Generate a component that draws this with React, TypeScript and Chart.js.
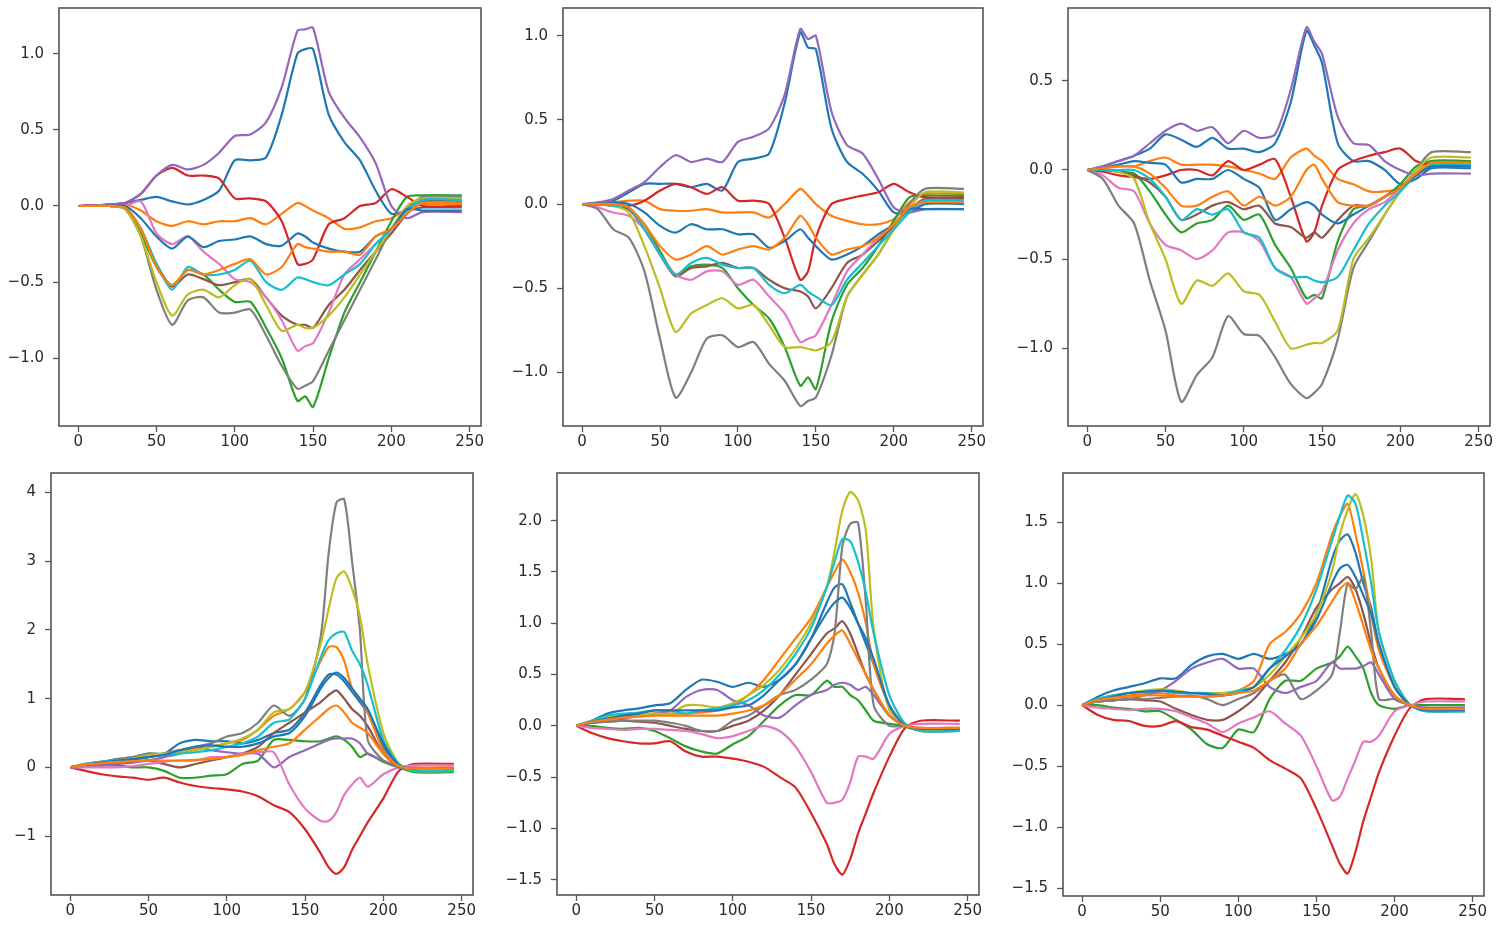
import React, { useEffect, useRef } from "react";
import { Chart, registerables } from "chart.js";

Chart.register(...registerables);

// ---------- x positions ----------
const xTop = [0, 10, 20, 30, 40, 50, 60, 70, 80, 90, 100, 110, 120, 130, 140, 145, 150, 160, 170, 180, 190, 200, 210, 220, 245];
const xBottom = [0, 10, 20, 30, 40, 50, 60, 70, 80, 90, 100, 110, 120, 130, 140, 150, 160, 165, 170, 175, 180, 185, 190, 200, 210, 220, 245];

// ---------- tick labels ----------
const xTickValues = [0, 50, 100, 150, 200, 250];
const yTicksA = [-1, -0.5, 0, 0.5, 1];
const yTicksB = [-1, -0.5, 0, 0.5, 1];
const yTicksC = [-1, -0.5, 0, 0.5];
const yTicksD = [-1, 0, 1, 2, 3, 4];
const yTicksE = [-1.5, -1, -0.5, 0, 0.5, 1, 1.5, 2];
const yTicksF = [-1.5, -1, -0.5, 0, 0.5, 1, 1.5];

// ---------- panel A (top left) ----------
const aBlue1 = [0, 0.005, 0.01, 0.02, 0.04, 0.06, 0.03, 0.01, 0.04, 0.1, 0.3, 0.3, 0.32, 0.6, 1.0, 1.03, 1.03, 0.6, 0.42, 0.3, 0.1, -0.05, -0.03, -0.01, -0.01];
const aOrange1 = [0, 0.005, 0.01, 0.01, -0.03, -0.1, -0.13, -0.1, -0.12, -0.1, -0.1, -0.08, -0.12, -0.05, 0.02, 0.0, -0.03, -0.08, -0.15, -0.14, -0.1, -0.08, -0.02, 0.01, 0.01];
const aGreen = [0, 0.0, 0.0, -0.02, -0.18, -0.4, -0.52, -0.42, -0.45, -0.55, -0.63, -0.63, -0.8, -1.0, -1.28, -1.25, -1.32, -1.0, -0.7, -0.5, -0.3, -0.1, 0.06, 0.07, 0.07];
const aRed = [0, 0.005, 0.01, 0.02, 0.08, 0.2, 0.25, 0.2, 0.2, 0.18, 0.05, 0.05, 0.03, -0.1, -0.38, -0.38, -0.35, -0.12, -0.08, 0.0, 0.02, 0.11, 0.06, 0.0, 0.0];
const aPurple = [0, 0.005, 0.01, 0.02, 0.08, 0.2, 0.27, 0.24, 0.27, 0.35, 0.46, 0.47, 0.55, 0.78, 1.15, 1.16, 1.17, 0.75, 0.58, 0.45, 0.28, 0.0, -0.08, -0.04, -0.04];
const aBrown = [0, 0.0, 0.0, -0.01, -0.15, -0.38, -0.53, -0.45, -0.48, -0.52, -0.5, -0.48, -0.6, -0.72, -0.78, -0.78, -0.8, -0.65, -0.55, -0.42, -0.3, -0.18, -0.05, 0.03, 0.03];
const aPink = [0, 0.0, 0.0, 0.0, 0.03, -0.18, -0.25, -0.2, -0.3, -0.38, -0.48, -0.5, -0.6, -0.75, -0.95, -0.92, -0.9, -0.7, -0.45, -0.35, -0.25, -0.15, -0.03, 0.02, 0.02];
const aGray = [0, 0.0, 0.0, -0.02, -0.2, -0.55, -0.78, -0.62, -0.6, -0.7, -0.7, -0.68, -0.85, -1.05, -1.2, -1.18, -1.15, -0.95, -0.75, -0.55, -0.35, -0.15, -0.02, 0.06, 0.06];
const aOlive = [0, 0.0, 0.0, -0.02, -0.2, -0.5, -0.72, -0.58, -0.55, -0.6, -0.52, -0.48, -0.65, -0.82, -0.78, -0.8, -0.8, -0.72, -0.6, -0.45, -0.3, -0.15, 0.0, 0.05, 0.05];
const aCyan = [0, 0.0, 0.0, -0.01, -0.15, -0.38, -0.55, -0.4, -0.45, -0.45, -0.42, -0.36, -0.5, -0.55, -0.47, -0.48, -0.5, -0.52, -0.45, -0.38, -0.25, -0.15, -0.03, 0.04, 0.04];
const aBlue2 = [0, 0.0, 0.0, 0.0, -0.08, -0.2, -0.28, -0.2, -0.27, -0.23, -0.22, -0.2, -0.25, -0.26, -0.18, -0.2, -0.24, -0.28, -0.3, -0.3, -0.2, -0.15, -0.02, -0.03, -0.03];
const aOrange2 = [0, 0.0, 0.0, -0.01, -0.15, -0.4, -0.52, -0.42, -0.45, -0.42, -0.38, -0.35, -0.45, -0.4, -0.25, -0.27, -0.28, -0.3, -0.3, -0.32, -0.2, -0.15, -0.05, 0.02, 0.02];

// ---------- panel B (top middle) ----------
const bBlue1 = [0, 0.0, 0.02, 0.07, 0.12, 0.12, 0.12, 0.1, 0.12, 0.08, 0.25, 0.27, 0.3, 0.6, 1.02, 0.93, 0.92, 0.45, 0.25, 0.18, 0.08, -0.05, -0.05, 0.0, 0.0];
const bOrange1 = [0, 0.0, 0.01, 0.02, 0.02, -0.03, -0.04, -0.04, -0.03, -0.05, -0.05, -0.05, -0.08, 0.0, 0.09, 0.05, 0.0, -0.07, -0.1, -0.12, -0.12, -0.09, 0.01, 0.06, 0.06];
const bGreen = [0, 0.0, -0.01, -0.03, -0.12, -0.28, -0.42, -0.37, -0.36, -0.38, -0.5, -0.6, -0.68, -0.85, -1.08, -1.03, -1.1, -0.7, -0.48, -0.38, -0.25, -0.1, 0.04, 0.05, 0.05];
const bRed = [0, 0.0, 0.0, -0.01, 0.02, 0.08, 0.12, 0.1, 0.06, 0.1, 0.02, 0.02, 0.0, -0.2, -0.45, -0.4, -0.2, 0.0, 0.03, 0.05, 0.07, 0.12, 0.07, 0.04, 0.04];
const bPurple = [0, 0.01, 0.03, 0.08, 0.13, 0.22, 0.29, 0.25, 0.27, 0.25, 0.37, 0.4, 0.45, 0.65, 1.04, 0.98, 1.0, 0.55, 0.35, 0.3, 0.15, -0.02, -0.05, -0.03, -0.03];
const bBrown = [0, 0.0, -0.01, -0.03, -0.15, -0.3, -0.43, -0.38, -0.37, -0.35, -0.38, -0.38, -0.45, -0.5, -0.52, -0.55, -0.62, -0.5, -0.35, -0.3, -0.22, -0.13, -0.03, 0.03, 0.03];
const bPink = [0, -0.02, -0.05, -0.07, -0.15, -0.3, -0.42, -0.45, -0.4, -0.4, -0.48, -0.45, -0.55, -0.65, -0.82, -0.8, -0.78, -0.6, -0.4, -0.3, -0.2, -0.12, -0.03, 0.02, 0.02];
const bGray = [0, -0.03, -0.15, -0.2, -0.4, -0.8, -1.15, -1.0, -0.8, -0.78, -0.85, -0.82, -0.95, -1.05, -1.2, -1.17, -1.15, -0.9, -0.55, -0.42, -0.3, -0.15, 0.0, 0.09, 0.09];
const bOlive = [0, 0.0, -0.01, -0.05, -0.25, -0.5, -0.76, -0.65, -0.6, -0.56, -0.62, -0.6, -0.72, -0.85, -0.85, -0.86, -0.87, -0.82, -0.55, -0.42, -0.3, -0.15, -0.02, 0.07, 0.07];
const bCyan = [0, 0.0, -0.01, -0.02, -0.15, -0.3, -0.42, -0.35, -0.32, -0.36, -0.38, -0.38, -0.48, -0.53, -0.48, -0.52, -0.55, -0.6, -0.45, -0.35, -0.25, -0.15, -0.05, 0.02, 0.02];
const bBlue2 = [0, 0.0, 0.01, 0.0, -0.05, -0.13, -0.17, -0.12, -0.15, -0.15, -0.18, -0.18, -0.26, -0.22, -0.15, -0.2, -0.25, -0.33, -0.3, -0.25, -0.18, -0.12, -0.03, -0.03, -0.03];
const bOrange2 = [0, 0.0, 0.0, -0.02, -0.12, -0.25, -0.33, -0.3, -0.25, -0.3, -0.27, -0.25, -0.27, -0.2, -0.07, -0.12, -0.2, -0.3, -0.27, -0.25, -0.2, -0.12, -0.02, 0.01, 0.01];

// ---------- panel C (top right) ----------
const cBlue1 = [0, 0.02, 0.05, 0.08, 0.12, 0.2, 0.17, 0.13, 0.18, 0.12, 0.12, 0.1, 0.15, 0.38, 0.78, 0.7, 0.6, 0.15, 0.05, 0.05, 0.0, -0.08, -0.05, 0.01, 0.01];
const cOrange1 = [0, 0.01, 0.02, 0.02, 0.05, 0.07, 0.03, 0.03, 0.03, 0.02, 0.0, -0.02, -0.05, 0.07, 0.12, 0.08, 0.05, -0.05, -0.08, -0.12, -0.12, -0.1, 0.0, 0.05, 0.05];
const cGreen = [0, 0.0, -0.01, -0.02, -0.12, -0.25, -0.35, -0.3, -0.28, -0.2, -0.28, -0.25, -0.42, -0.55, -0.72, -0.7, -0.72, -0.4, -0.22, -0.2, -0.15, -0.08, 0.02, 0.05, 0.05];
const cRed = [0, -0.01, -0.03, -0.04, -0.05, -0.03, 0.0, 0.0, -0.03, 0.05, 0.0, 0.03, 0.06, -0.15, -0.4, -0.35, -0.2, 0.0, 0.05, 0.08, 0.1, 0.12, 0.05, 0.03, 0.03];
const cPurple = [0, 0.02, 0.05, 0.08, 0.15, 0.22, 0.26, 0.22, 0.24, 0.15, 0.22, 0.18, 0.2, 0.45, 0.8, 0.72, 0.65, 0.3, 0.15, 0.14, 0.05, 0.0, -0.03, -0.02, -0.02];
const cBrown = [0, 0.0, -0.01, -0.03, -0.07, -0.15, -0.28, -0.25, -0.2, -0.18, -0.22, -0.2, -0.3, -0.32, -0.38, -0.35, -0.38, -0.28, -0.2, -0.2, -0.15, -0.1, -0.02, 0.03, 0.03];
const cPink = [0, -0.03, -0.1, -0.12, -0.3, -0.42, -0.45, -0.5, -0.45, -0.35, -0.35, -0.4, -0.55, -0.6, -0.75, -0.72, -0.68, -0.45, -0.3, -0.22, -0.18, -0.1, -0.02, 0.02, 0.02];
const cGray = [0, -0.05, -0.2, -0.3, -0.62, -0.9, -1.3, -1.15, -1.05, -0.82, -0.92, -0.93, -1.05, -1.2, -1.28, -1.25, -1.2, -0.95, -0.55, -0.4, -0.25, -0.12, 0.0, 0.1, 0.1];
const cOlive = [0, 0.0, -0.01, -0.05, -0.3, -0.5, -0.75, -0.62, -0.65, -0.58, -0.68, -0.7, -0.85, -1.0, -0.98, -0.97, -0.97, -0.9, -0.5, -0.38, -0.25, -0.12, 0.0, 0.07, 0.07];
const cCyan = [0, 0.0, 0.0, 0.0, -0.05, -0.15, -0.28, -0.22, -0.25, -0.22, -0.35, -0.38, -0.55, -0.6, -0.6, -0.62, -0.63, -0.6, -0.45, -0.3, -0.2, -0.12, -0.03, 0.03, 0.03];
const cBlue2 = [0, 0.01, 0.03, 0.05, 0.04, 0.03, -0.07, -0.05, -0.05, 0.0, -0.05, -0.1, -0.28, -0.22, -0.18, -0.2, -0.25, -0.3, -0.25, -0.2, -0.15, -0.1, -0.03, 0.02, 0.02];
const cOrange2 = [0, 0.01, 0.02, 0.02, -0.02, -0.1, -0.2, -0.2, -0.15, -0.12, -0.2, -0.15, -0.2, -0.15, 0.0, 0.03, -0.05, -0.18, -0.2, -0.2, -0.15, -0.1, -0.02, 0.04, 0.04];

// ---------- panel D (bottom left) ----------
const dBlue1 = [0, 0.05, 0.08, 0.12, 0.15, 0.2, 0.2, 0.35, 0.4, 0.38, 0.38, 0.35, 0.4, 0.5, 0.55, 0.8, 1.2, 1.35, 1.35, 1.25, 1.1, 0.95, 0.8, 0.3, 0.02, -0.02, -0.02];
const dOrange1 = [0, 0.05, 0.08, 0.1, 0.12, 0.15, 0.2, 0.25, 0.27, 0.3, 0.35, 0.4, 0.55, 0.75, 0.85, 1.1, 1.55, 1.75, 1.75, 1.55, 1.15, 1.0, 0.8, 0.25, 0.02, 0.0, 0.0];
const dGreen = [0, 0.02, 0.03, 0.03, 0.0, 0.0, -0.05, -0.15, -0.15, -0.12, -0.1, 0.05, 0.1, 0.4, 0.4, 0.38, 0.38, 0.42, 0.45, 0.4, 0.3, 0.15, 0.2, 0.08, 0.0, -0.07, -0.07];
const dRed = [0, -0.05, -0.1, -0.13, -0.15, -0.18, -0.15, -0.22, -0.27, -0.3, -0.32, -0.35, -0.42, -0.55, -0.65, -0.9, -1.25, -1.45, -1.55, -1.45, -1.2, -1.0, -0.8, -0.45, -0.05, 0.05, 0.05];
const dPurple = [0, 0.02, 0.03, 0.05, 0.07, 0.1, 0.15, 0.2, 0.3, 0.25, 0.22, 0.2, 0.2, 0.0, 0.15, 0.25, 0.35, 0.4, 0.42, 0.42, 0.42, 0.35, 0.2, 0.1, 0.0, -0.02, -0.02];
const dBrown = [0, 0.04, 0.06, 0.08, 0.09, 0.1, 0.05, 0.0, 0.05, 0.1, 0.15, 0.2, 0.3, 0.5, 0.65, 0.8, 0.95, 1.05, 1.12, 1.0, 0.85, 0.75, 0.6, 0.2, 0.0, -0.03, -0.03];
const dPink = [0, 0.0, 0.0, 0.0, 0.02, 0.05, 0.08, 0.1, 0.1, 0.15, 0.15, 0.2, 0.22, 0.22, -0.25, -0.6, -0.78, -0.78, -0.65, -0.4, -0.25, -0.15, -0.28, -0.1, 0.0, 0.03, 0.03];
const dGray = [0, 0.05, 0.08, 0.12, 0.15, 0.2, 0.2, 0.25, 0.3, 0.35, 0.45, 0.5, 0.65, 0.9, 0.75, 1.0, 1.9, 3.1, 3.85, 3.9, 3.0, 2.0, 0.4, 0.1, 0.0, -0.05, -0.05];
const dOlive = [0, 0.05, 0.07, 0.1, 0.13, 0.18, 0.2, 0.22, 0.25, 0.3, 0.35, 0.42, 0.55, 0.8, 0.85, 1.1, 1.8, 2.3, 2.75, 2.85, 2.6, 2.2, 1.5, 0.5, 0.05, -0.05, -0.05];
const dCyan = [0, 0.05, 0.08, 0.1, 0.12, 0.15, 0.18, 0.2, 0.22, 0.25, 0.3, 0.35, 0.45, 0.65, 0.7, 1.0, 1.6, 1.85, 1.95, 1.97, 1.7, 1.5, 1.2, 0.4, 0.05, -0.05, -0.05];
const dBlue2 = [0, 0.04, 0.07, 0.1, 0.12, 0.15, 0.18, 0.25, 0.3, 0.32, 0.3, 0.3, 0.35, 0.45, 0.5, 0.75, 1.15, 1.3, 1.38, 1.3, 1.15, 1.0, 0.85, 0.35, 0.03, -0.02, -0.02];
const dOrange2 = [0, 0.04, 0.06, 0.08, 0.09, 0.1, 0.1, 0.1, 0.11, 0.12, 0.15, 0.18, 0.25, 0.3, 0.35, 0.55, 0.75, 0.85, 0.9, 0.8, 0.65, 0.58, 0.5, 0.2, 0.02, -0.02, -0.02];

// ---------- panel E (bottom middle) ----------
const eBlue1 = [0, 0.05, 0.12, 0.15, 0.17, 0.2, 0.22, 0.35, 0.45, 0.43, 0.38, 0.42, 0.38, 0.45, 0.6, 0.85, 1.2, 1.35, 1.38, 1.2, 1.0, 0.8, 0.6, 0.2, 0.0, -0.04, -0.04];
const eOrange1 = [0, 0.05, 0.08, 0.1, 0.11, 0.12, 0.12, 0.12, 0.13, 0.15, 0.2, 0.3, 0.45, 0.65, 0.85, 1.05, 1.35, 1.5, 1.62, 1.5, 1.3, 1.0, 0.6, 0.2, 0.0, -0.03, -0.03];
const eGreen = [0, 0.0, -0.02, -0.03, -0.02, -0.05, -0.12, -0.2, -0.25, -0.27, -0.18, -0.1, 0.05, 0.2, 0.3, 0.3, 0.44, 0.38, 0.38, 0.3, 0.25, 0.15, 0.05, 0.02, 0.0, -0.05, -0.05];
const eRed = [0, -0.07, -0.12, -0.15, -0.17, -0.17, -0.15, -0.25, -0.3, -0.3, -0.32, -0.35, -0.4, -0.5, -0.6, -0.85, -1.15, -1.35, -1.45, -1.3, -1.05, -0.85, -0.65, -0.3, -0.02, 0.05, 0.05];
const ePurple = [0, 0.03, 0.05, 0.07, 0.1, 0.12, 0.15, 0.28, 0.35, 0.35, 0.25, 0.2, 0.1, 0.08, 0.2, 0.3, 0.35, 0.4, 0.42, 0.4, 0.35, 0.38, 0.3, 0.1, 0.0, -0.02, -0.02];
const eBrown = [0, 0.03, 0.04, 0.05, 0.04, 0.03, 0.0, -0.03, -0.05, -0.05, 0.0, 0.05, 0.15, 0.3, 0.5, 0.7, 0.9, 0.95, 1.02, 0.9, 0.7, 0.5, 0.35, 0.1, 0.0, -0.03, -0.03];
const ePink = [0, -0.02, -0.03, -0.04, -0.03, -0.03, -0.04, -0.05, -0.08, -0.12, -0.1, -0.05, 0.0, -0.05, -0.2, -0.45, -0.75, -0.75, -0.72, -0.55, -0.3, -0.3, -0.32, -0.08, 0.0, 0.02, 0.02];
const eGray = [0, 0.03, 0.04, 0.05, 0.05, 0.05, 0.03, 0.0, -0.05, -0.05, 0.05, 0.1, 0.2, 0.3, 0.35, 0.45, 0.6, 0.9, 1.75, 1.97, 1.98, 1.2, 0.2, 0.0, 0.0, -0.05, -0.05];
const eOlive = [0, 0.05, 0.08, 0.1, 0.11, 0.12, 0.12, 0.2, 0.2, 0.18, 0.22, 0.3, 0.4, 0.55, 0.75, 1.0, 1.35, 1.7, 2.1, 2.28, 2.2, 1.9, 0.95, 0.15, 0.02, -0.04, -0.04];
const eCyan = [0, 0.05, 0.1, 0.12, 0.13, 0.15, 0.15, 0.12, 0.15, 0.17, 0.2, 0.25, 0.35, 0.5, 0.7, 0.95, 1.35, 1.6, 1.82, 1.8, 1.6, 1.3, 0.9, 0.3, 0.02, -0.05, -0.05];
const eBlue2 = [0, 0.04, 0.07, 0.1, 0.12, 0.15, 0.15, 0.15, 0.15, 0.15, 0.18, 0.2, 0.3, 0.45, 0.6, 0.85, 1.1, 1.2, 1.25, 1.15, 1.0, 0.85, 0.65, 0.2, 0.0, -0.03, -0.03];
const eOrange2 = [0, 0.04, 0.06, 0.08, 0.09, 0.1, 0.1, 0.1, 0.1, 0.1, 0.12, 0.15, 0.2, 0.3, 0.45, 0.6, 0.8, 0.88, 0.93, 0.8, 0.65, 0.5, 0.35, 0.1, 0.0, -0.02, -0.02];

// ---------- panel F (bottom right) ----------
const fBlue1 = [0, 0.07, 0.12, 0.15, 0.18, 0.22, 0.22, 0.33, 0.4, 0.42, 0.38, 0.42, 0.38, 0.42, 0.5, 0.75, 1.2, 1.35, 1.4, 1.25, 1.0, 0.8, 0.5, 0.15, 0.0, -0.04, -0.04];
const fOrange1 = [0, 0.05, 0.07, 0.08, 0.09, 0.1, 0.08, 0.07, 0.07, 0.08, 0.12, 0.2, 0.5, 0.6, 0.75, 1.0, 1.4, 1.55, 1.65, 1.4, 1.1, 0.75, 0.45, 0.15, 0.0, -0.03, -0.03];
const fGreen = [0, 0.0, -0.02, -0.03, -0.05, -0.05, -0.12, -0.2, -0.32, -0.35, -0.2, -0.22, 0.05, 0.2, 0.2, 0.3, 0.35, 0.4, 0.48, 0.4, 0.3, 0.1, 0.0, -0.03, 0.0, 0.0, 0.0];
const fRed = [0, -0.08, -0.12, -0.13, -0.17, -0.17, -0.13, -0.18, -0.2, -0.25, -0.3, -0.35, -0.45, -0.52, -0.6, -0.85, -1.15, -1.3, -1.38, -1.2, -0.95, -0.75, -0.55, -0.25, -0.02, 0.05, 0.05];
const fPurple = [0, 0.03, 0.04, 0.05, 0.08, 0.12, 0.2, 0.3, 0.35, 0.38, 0.3, 0.3, 0.15, 0.1, 0.15, 0.2, 0.35, 0.3, 0.3, 0.3, 0.32, 0.35, 0.25, 0.05, 0.0, -0.02, -0.02];
const fBrown = [0, 0.03, 0.04, 0.05, 0.04, 0.03, -0.03, -0.08, -0.12, -0.12, -0.05, 0.05, 0.2, 0.35, 0.55, 0.8, 0.95, 1.0, 1.05, 0.95, 0.75, 0.5, 0.3, 0.08, 0.0, -0.03, -0.03];
const fPink = [0, -0.02, -0.03, -0.04, -0.03, -0.03, -0.05, -0.1, -0.15, -0.22, -0.15, -0.1, -0.05, -0.15, -0.25, -0.5, -0.78, -0.75, -0.6, -0.45, -0.3, -0.3, -0.25, -0.05, 0.0, 0.03, 0.03];
const fGray = [0, 0.03, 0.04, 0.05, 0.05, 0.06, 0.07, 0.08, 0.05, 0.0, 0.05, 0.1, 0.2, 0.25, 0.05, 0.12, 0.25, 0.6, 1.0, 0.95, 1.05, 0.6, 0.05, 0.05, 0.0, -0.05, -0.05];
const fOlive = [0, 0.05, 0.08, 0.1, 0.12, 0.13, 0.12, 0.1, 0.1, 0.1, 0.12, 0.15, 0.25, 0.4, 0.55, 0.75, 1.1, 1.4, 1.6, 1.73, 1.55, 1.2, 0.6, 0.2, 0.0, -0.04, -0.04];
const fCyan = [0, 0.05, 0.08, 0.1, 0.11, 0.12, 0.1, 0.1, 0.1, 0.08, 0.12, 0.15, 0.3, 0.45, 0.65, 0.95, 1.35, 1.55, 1.72, 1.65, 1.35, 1.0, 0.6, 0.2, 0.0, -0.05, -0.05];
const fBlue2 = [0, 0.04, 0.07, 0.1, 0.11, 0.12, 0.11, 0.1, 0.09, 0.08, 0.1, 0.15, 0.3, 0.4, 0.5, 0.7, 1.0, 1.12, 1.15, 1.05, 0.9, 0.75, 0.5, 0.15, 0.0, -0.04, -0.04];
const fOrange2 = [0, 0.04, 0.06, 0.07, 0.08, 0.08, 0.07, 0.07, 0.07, 0.08, 0.1, 0.12, 0.2, 0.3, 0.5, 0.65, 0.85, 0.95, 1.0, 0.85, 0.65, 0.45, 0.3, 0.08, 0.0, -0.03, -0.03];

// ---------- styling ----------
const COLORS = ["#1f77b4", "#ff7f0e", "#2ca02c", "#d62728", "#9467bd", "#8c564b", "#e377c2", "#7f7f7f", "#bcbd22", "#17becf", "#1f77b4", "#ff7f0e"];
const FONT = { family: "'DejaVu Sans', sans-serif", size: 15 };
const TEXT_COLOR = "#2a2a2a";
const FRAME_COLOR = "#555555";
const Y_AXIS_W = 60;
const X_AXIS_H = 40;
const PAD_TOP = 30;
const PAD_RIGHT = 10;

type PanelDef = {
  xs: number[];
  series: number[][];
  yMin: number;
  yMax: number;
  yTicks: number[];
  decimals: number;
  box: { l: number; t: number; r: number; b: number };
};

const panels: PanelDef[] = [
  { xs: xTop, series: [aBlue1, aOrange1, aGreen, aRed, aPurple, aBrown, aPink, aGray, aOlive, aCyan, aBlue2, aOrange2], yMin: -1.4445, yMax: 1.3, yTicks: yTicksA, decimals: 1, box: { l: 59, t: 8, r: 481, b: 426 } },
  { xs: xTop, series: [bBlue1, bOrange1, bGreen, bRed, bPurple, bBrown, bPink, bGray, bOlive, bCyan, bBlue2, bOrange2], yMin: -1.319, yMax: 1.165, yTicks: yTicksB, decimals: 1, box: { l: 563, t: 8, r: 983, b: 426 } },
  { xs: xTop, series: [cBlue1, cOrange1, cGreen, cRed, cPurple, cBrown, cPink, cGray, cOlive, cCyan, cBlue2, cOrange2], yMin: -1.436, yMax: 0.9086, yTicks: yTicksC, decimals: 1, box: { l: 1068, t: 8, r: 1490, b: 426 } },
  { xs: xBottom, series: [dBlue1, dOrange1, dGreen, dRed, dPurple, dBrown, dPink, dGray, dOlive, dCyan, dBlue2, dOrange2], yMin: -1.856, yMax: 4.282, yTicks: yTicksD, decimals: 0, box: { l: 51, t: 473, r: 473, b: 895 } },
  { xs: xBottom, series: [eBlue1, eOrange1, eGreen, eRed, ePurple, eBrown, ePink, eGray, eOlive, eCyan, eBlue2, eOrange2], yMin: -1.649, yMax: 2.465, yTicks: yTicksE, decimals: 1, box: { l: 557, t: 473, r: 979, b: 895 } },
  { xs: xBottom, series: [fBlue1, fOrange1, fGreen, fRed, fPurple, fBrown, fPink, fGray, fOlive, fCyan, fBlue2, fOrange2], yMin: -1.564, yMax: 1.903, yTicks: yTicksF, decimals: 1, box: { l: 1063, t: 473, r: 1484, b: 896 } },
];

const fmt = (v: number, dec: number) => {
  const s = Math.abs(v).toFixed(dec);
  return (v < 0 ? "\u2212" : "") + s;
};

const framePlugin = {
  id: "frame",
  afterDatasetsDraw(chart: any) {
    const { ctx, chartArea } = chart;
    ctx.save();
    ctx.strokeStyle = FRAME_COLOR;
    ctx.lineWidth = 1.6;
    ctx.strokeRect(chartArea.left, chartArea.top, chartArea.right - chartArea.left, chartArea.bottom - chartArea.top);
    ctx.restore();
  },
};

function Panel({ def }: { def: PanelDef }) {
  const ref = useRef<HTMLCanvasElement | null>(null);
  const { l, t, r, b } = def.box;
  const width = r - l + Y_AXIS_W + PAD_RIGHT;
  const height = b - t + PAD_TOP + X_AXIS_H;

  useEffect(() => {
    if (!ref.current) return;
    const datasets = def.series
      .map((s, i) => ({
        data: def.xs.map((x, j) => ({ x, y: s[j] })),
        borderColor: COLORS[i],
        backgroundColor: COLORS[i],
        borderWidth: 2.2,
        pointRadius: 0,
        tension: 0.25,
        fill: false,
      }))
      .reverse();
    const tickGrid = {
      display: true,
      drawOnChartArea: false,
      drawTicks: true,
      tickLength: 6,
      tickColor: FRAME_COLOR,
      tickWidth: 1.3,
    };
    const chart = new Chart(ref.current, {
      type: "line",
      data: { datasets },
      plugins: [framePlugin],
      options: {
        animation: false,
        responsive: false,
        devicePixelRatio: 1,
        layout: { padding: { left: 0, top: PAD_TOP, right: PAD_RIGHT, bottom: 0 } },
        plugins: { legend: { display: false }, tooltip: { enabled: false } },
        events: [],
        scales: {
          x: {
            type: "linear",
            min: -12.25,
            max: 257.25,
            afterBuildTicks: (s: any) => {
              s.ticks = xTickValues.map((v) => ({ value: v }));
            },
            afterFit: (s: any) => {
              s.height = X_AXIS_H;
            },
            ticks: {
              autoSkip: false,
              maxRotation: 0,
              padding: 1,
              font: FONT,
              color: TEXT_COLOR,
              callback: (v: any) => String(v),
            },
            grid: tickGrid,
            border: { display: false },
          },
          y: {
            type: "linear",
            min: def.yMin,
            max: def.yMax,
            afterBuildTicks: (s: any) => {
              s.ticks = def.yTicks.map((v) => ({ value: v }));
            },
            afterFit: (s: any) => {
              s.width = Y_AXIS_W;
            },
            ticks: {
              autoSkip: false,
              padding: 9,
              font: FONT,
              color: TEXT_COLOR,
              callback: (v: any) => fmt(Number(v), def.decimals),
            },
            grid: tickGrid,
            border: { display: false },
          },
        },
      } as any,
    });
    return () => chart.destroy();
  }, [def]);

  return (
    <div style={{ position: "absolute", left: l - Y_AXIS_W, top: t - PAD_TOP, width, height }}>
      <canvas ref={ref} width={width} height={height} style={{ width, height, display: "block" }} />
    </div>
  );
}

export default function App() {
  return (
    <div style={{ position: "fixed", left: 0, top: 0, width: 1500, height: 936, background: "#ffffff", overflow: "hidden" }}>
      {panels.map((p, i) => (
        <Panel key={i} def={p} />
      ))}
    </div>
  );
}
